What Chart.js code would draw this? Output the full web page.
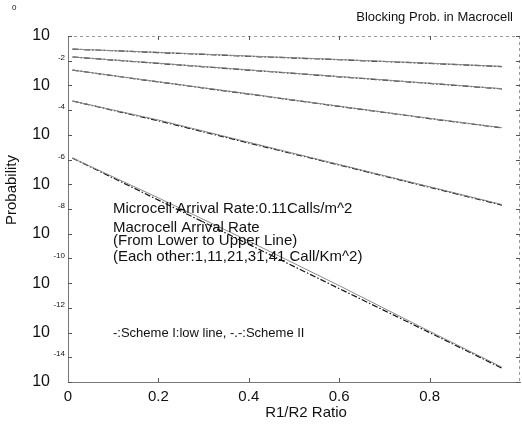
<!DOCTYPE html>
<html>
<head>
<meta charset="utf-8">
<script src="https://cdn.jsdelivr.net/npm/chart.js@4"></script>
<style>
  html, body { margin: 0; padding: 0; background: #fff; }
  #wrap { width: 522px; height: 426px; }
</style>
</head>
<body>
<div id="wrap"><canvas id="bpChart" width="522" height="426"></canvas></div>
<script>
// R1/R2 ratio sample points
const ratios = [0.01, 0.2, 0.4, 0.6, 0.8, 0.96];
// macrocell arrival rates, lower to upper line
const macroRates = [1, 11, 21, 31, 41];

// log10 of blocking probability
const schemeTwoExp = [
    [-4.94, -6.64, -8.43, -10.22, -12.0, -13.44],
    [-2.63, -3.43, -4.33, -5.22, -6.12, -6.84],
    [-1.38, -1.86, -2.35, -2.85, -3.34, -3.72],
    [-0.85, -1.11, -1.38, -1.65, -1.92, -2.14],
    [-0.53, -0.67, -0.82, -0.96, -1.11, -1.24]
];
const schemeOneExp = [
    [-4.94, -6.55, -8.30, -10.10, -11.95, -13.40],
    [-2.63, -3.40, -4.30, -5.20, -6.10, -6.82],
    [-1.38, -1.85, -2.34, -2.84, -3.33, -3.71],
    [-0.85, -1.10, -1.37, -1.64, -1.91, -2.13],
    [-0.53, -0.66, -0.81, -0.95, -1.10, -1.23]
];

// y tick decades 10^0 .. 10^-14
const decades = [0, -1, -2, -3, -4, -5, -6, -7, -8, -9, -10, -11, -12, -13, -14];
const xTickLabels = ['0', '0.2', '0.4', '0.6', '0.8'];

const chartTitle = 'Blocking Prob. in Macrocell';
const xTitle = 'R1/R2 Ratio';
const yTitle = 'Probability';
const noteLines = [
    'Microcell Arrival Rate:0.11Calls/m^2',
    'Macrocell Arrival Rate',
    '(From Lower to Upper Line)',
    '(Each other:1,11,21,31,41 Call/Km^2)'
];
const schemeNote = '-:Scheme I:low line, -.-:Scheme II';

const FONT = '"Liberation Sans", Arial, sans-serif';

function toPoints(exps) {
    return exps.map((e, i) => ({ x: ratios[i], y: Math.pow(10, e) }));
}

let datasets = [];
macroRates.forEach((rate, i) => {
    datasets.push({
        label: 'Scheme I, ' + rate,
        data: toPoints(schemeOneExp[i]),
        borderColor: '#8a8a8a',
        borderWidth: 1,
        pointRadius: 0,
        fill: false,
        tension: 0
    });
    datasets.push({
        label: 'Scheme II, ' + rate,
        data: toPoints(schemeTwoExp[i]),
        borderColor: '#111',
        borderWidth: 1.2,
        borderDash: [6, 2, 1.5, 2],
        pointRadius: 0,
        fill: false,
        tension: 0
    });
});

// frame, inner ticks and the free texts
const decorPlugin = {
    id: 'decor',
    afterDraw(chart) {
        const ctx = chart.ctx;
        const area = chart.chartArea;
        const ys = chart.scales.y;
        const xs = chart.scales.x;
        ctx.save();

        // top and right frame
        ctx.strokeStyle = '#9a9a9a';
        ctx.lineWidth = 1;
        ctx.setLineDash([3, 3]);
        ctx.beginPath();
        ctx.moveTo(area.left, area.top + 0.5);
        ctx.lineTo(area.right, area.top + 0.5);
        ctx.moveTo(area.right - 0.5, area.top);
        ctx.lineTo(area.right - 0.5, area.bottom);
        ctx.stroke();
        ctx.setLineDash([]);

        // short inward ticks on both sides
        ctx.strokeStyle = '#555';
        decades.forEach(e => {
            const py = Math.round(ys.getPixelForValue(Math.pow(10, e))) + 0.5;
            ctx.beginPath();
            ctx.moveTo(area.left, py);
            ctx.lineTo(area.left + 4, py);
            ctx.moveTo(area.right, py);
            ctx.lineTo(area.right - 4, py);
            ctx.stroke();
        });
        [0.2, 0.4, 0.6, 0.8].forEach(v => {
            const px = Math.round(xs.getPixelForValue(v)) + 0.5;
            ctx.beginPath();
            ctx.moveTo(px, area.bottom);
            ctx.lineTo(px, area.bottom - 4);
            ctx.moveTo(px, area.top);
            ctx.lineTo(px, area.top + 4);
            ctx.stroke();
        });

        // exponents of the "10" labels, sitting one decade higher
        ctx.fillStyle = '#111';
        ctx.font = '8px ' + FONT;
        ctx.textBaseline = 'middle';
        decades.forEach(e => {
            if (e % 2 !== 0) return;
            const py = ys.getPixelForValue(Math.pow(10, e + 1));
            if (e === 0) {
                ctx.textAlign = 'left';
                ctx.fillText('0', 12, 8);
            } else {
                ctx.textAlign = 'right';
                ctx.fillText(String(e), area.left - 3, py - 3);
            }
        });

        // title, right aligned near the edge
        ctx.font = '13px ' + FONT;
        ctx.textAlign = 'right';
        ctx.fillText(chartTitle, 513, 17);

        // axis titles
        ctx.font = '15px ' + FONT;
        ctx.textAlign = 'center';
        ctx.fillText(xTitle, 306, 413);
        ctx.save();
        ctx.translate(12, 190);
        ctx.rotate(-Math.PI / 2);
        ctx.fillText(yTitle, 0, 0);
        ctx.restore();

        // notes inside the plot
        ctx.textAlign = 'left';
        ctx.font = '15px ' + FONT;
        ctx.fillText(noteLines[0], 113, 209);
        ctx.fillText(noteLines[1], 113, 228);
        ctx.fillText(noteLines[2], 113, 241);
        ctx.fillText(noteLines[3], 113, 257);
        ctx.font = '13px ' + FONT;
        ctx.fillText(schemeNote, 113, 333);
        ctx.restore();
    }
};

const ctx = document.getElementById('bpChart').getContext('2d');
new Chart(ctx, {
    type: 'line',
    data: { datasets: datasets },
    options: {
        responsive: false,
        animation: false,
        devicePixelRatio: 1,
        layout: { padding: { top: 36, right: 2, left: 0, bottom: 0 } },
        plugins: {
            legend: { display: false },
            tooltip: { enabled: false }
        },
        scales: {
            x: {
                type: 'linear',
                min: 0,
                max: 1,
                grid: { display: false, drawTicks: false },
                border: { display: true, color: '#777', dash: [3, 2] },
                afterBuildTicks: (scale) => {
                    scale.ticks = xTickLabels.map(t => ({ value: parseFloat(t) }));
                },
                ticks: {
                    padding: 6,
                    color: '#111',
                    font: { family: FONT, size: 15 },
                    callback: (v) => xTickLabels.find(t => parseFloat(t) === v) || ''
                },
                afterFit: (scale) => { scale.height = 44; }
            },
            y: {
                type: 'logarithmic',
                min: 1e-14,
                max: 1,
                grid: { display: false, drawTicks: false },
                border: { display: true, color: '#777', dash: [2, 2] },
                afterBuildTicks: (scale) => {
                    scale.ticks = decades.map(e => ({ value: Math.pow(10, e) }));
                },
                ticks: {
                    autoSkip: false,
                    padding: 18,
                    color: '#111',
                    font: { family: FONT, size: 16 },
                    callback: (v) => {
                        const e = Math.round(Math.log10(v));
                        return e % 2 === 0 ? '10' : '';
                    }
                },
                afterFit: (scale) => { scale.width = 68; }
            }
        }
    },
    plugins: [decorPlugin]
});
</script>
</body>
</html>
